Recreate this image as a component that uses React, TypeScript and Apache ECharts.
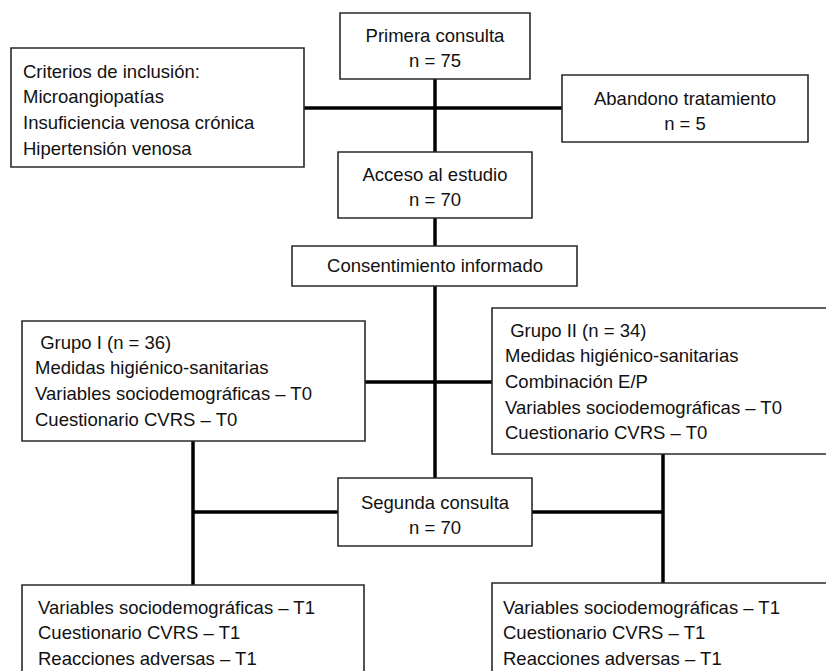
import React, { useEffect, useRef } from "react";
import * as echarts from "echarts";

// ---- Data: texts of each box ----
const primeraConsulta = ["Primera consulta", "n = 75"];
const criterios = [
  "Criterios de inclusión:",
  "Microangiopatías",
  "Insuficiencia venosa crónica",
  "Hipertensión venosa",
];
const abandono = ["Abandono tratamiento", "n = 5"];
const acceso = ["Acceso al estudio", "n = 70"];
const consentimiento = ["Consentimiento informado"];
const grupoI = [
  " Grupo I (n = 36)",
  "Medidas higiénico-sanitarias",
  "Variables sociodemográficas – T0",
  "Cuestionario CVRS – T0",
];
const grupoII = [
  " Grupo II (n = 34)",
  "Medidas higiénico-sanitarias",
  "Combinación E/P",
  "Variables sociodemográficas – T0",
  "Cuestionario CVRS – T0",
];
const segundaConsulta = ["Segunda consulta", "n = 70"];
const seguimientoI = [
  "Variables sociodemográficas – T1",
  "Cuestionario CVRS – T1",
  "Reacciones adversas – T1",
];
const seguimientoII = [
  "Variables sociodemográficas – T1",
  "Cuestionario CVRS – T1",
  "Reacciones adversas – T1",
];

// ---- Layout (positions / sizes) ----
type Box = {
  lines: string[];
  x: number;
  y: number;
  w: number;
  h: number;
  align: "center" | "left";
  tx: number;
  ty: number;
};

const boxes: Box[] = [
  { lines: primeraConsulta, x: 340, y: 13, w: 190, h: 66, align: "center", tx: 435, ty: 35 },
  { lines: criterios, x: 11, y: 48, w: 293, h: 119, align: "left", tx: 23, ty: 71 },
  { lines: abandono, x: 562, y: 75, w: 246, h: 67, align: "center", tx: 685, ty: 98 },
  { lines: acceso, x: 338, y: 152, w: 194, h: 66, align: "center", tx: 435, ty: 174 },
  { lines: consentimiento, x: 292, y: 246, w: 285, h: 40, align: "center", tx: 435, ty: 265 },
  { lines: grupoI, x: 22, y: 321, w: 343, h: 120, align: "left", tx: 35, ty: 342 },
  { lines: grupoII, x: 492, y: 308, w: 340, h: 146, align: "left", tx: 505, ty: 330 },
  { lines: segundaConsulta, x: 338, y: 478, w: 194, h: 68, align: "center", tx: 435, ty: 502 },
  { lines: seguimientoI, x: 22, y: 585, w: 342, h: 120, align: "left", tx: 38, ty: 607 },
  { lines: seguimientoII, x: 492, y: 583, w: 340, h: 120, align: "left", tx: 503, ty: 607 },
];

const connectors: [number, number, number, number][] = [
  [304, 108, 562, 108],
  [435, 79, 435, 152],
  [435, 218, 435, 246],
  [435, 286, 435, 478],
  [365, 382, 492, 382],
  [193, 441, 193, 585],
  [193, 512, 338, 512],
  [663, 454, 663, 583],
  [532, 512, 663, 512],
];

const LINE_H = 25.7;
const FONT = "Liberation Sans, Arial, Helvetica, sans-serif";

export default function App() {
  const ref = useRef<HTMLDivElement>(null);
  useEffect(() => {
    if (!ref.current) return;
    const chart = echarts.init(ref.current, undefined, { renderer: "svg" });
    const elements: any[] = [];
    connectors.forEach(([x1, y1, x2, y2]) => {
      elements.push({
        type: "line",
        shape: { x1, y1, x2, y2 },
        style: { stroke: "#000", lineWidth: 3.5 },
        z: 1,
      });
    });
    boxes.forEach((b) => {
      elements.push({
        type: "rect",
        shape: { x: b.x, y: b.y, width: b.w, height: b.h },
        style: { fill: "#fff", stroke: "#2a2a2a", lineWidth: 1.6 },
        z: 2,
      });
      b.lines.forEach((t, i) => {
        elements.push({
          type: "text",
          x: b.tx,
          y: b.ty + i * LINE_H,
          style: {
            text: t,
            fill: "#111",
            font: `18.5px ${FONT}`,
            align: b.align,
            verticalAlign: "middle",
          },
          z: 3,
        });
      });
    });
    chart.setOption({
      animation: false,
      backgroundColor: "#fff",
      graphic: { elements },
    });
    return () => chart.dispose();
  }, []);
  return (
    <div
      ref={ref}
      style={{ position: "fixed", left: 0, top: 0, width: 826, height: 671 }}
    />
  );
}
